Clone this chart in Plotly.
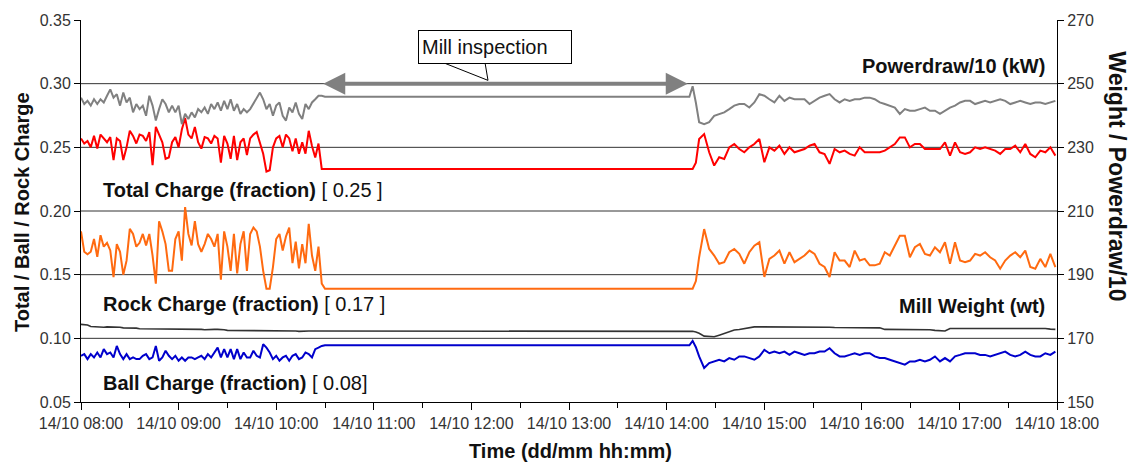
import pandas as pd
import plotly.graph_objects as go

# ---------------- time axes ----------------
t_before = pd.date_range("2008-10-14 08:00", periods=75, freq="2min")
t_gap = pd.to_datetime(["2008-10-14 10:30", "2008-10-14 14:14",
                        "2008-10-14 14:16", "2008-10-14 14:18"])
t_after = pd.date_range("2008-10-14 14:20", "2008-10-14 17:59", periods=72)

# ---------------- Powerdraw/10 (kW), right axis ----------------
power_before = [245.6,243.6,244.6,243.1,245.1,243.6,245.1,244.1,246.2,248.2,
                245.6,246.7,243.1,247.2,244.1,245.6,241.0,243.6,242.0,243.1,
                239.9,246.2,243.1,238.4,242.0,245.1,243.6,241.0,243.1,241.0,
                243.1,237.3,240.5,238.9,241.0,239.4,242.0,241.0,242.5,240.5,
                243.6,242.0,244.1,241.5,244.6,242.0,245.1,241.5,243.6,240.5,
                242.0,241.0,242.0,243.6,245.6,247.2,245.1,242.0,243.6,239.9,
                243.1,244.1,239.9,238.4,242.5,241.0,244.1,240.5,238.9,243.6,
                242.0,244.1,245.1,246.2,246.2]
power_gap = [245.9, 245.9, 249.2, 244.0]
power_after = [237.9,237.3,237.9,239.9,240.5,241.0,242.0,243.1,243.6,243.6,
               242.5,244.1,246.7,246.2,245.1,244.1,246.2,244.6,245.6,245.1,
               245.1,245.1,243.6,244.6,245.6,246.2,246.7,245.1,244.1,245.1,
               244.6,245.1,245.1,245.6,245.6,245.1,244.1,243.6,243.1,242.5,
               240.5,242.0,241.5,241.5,242.0,242.5,241.5,241.5,240.5,241.5,
               242.5,243.1,244.1,244.6,244.6,243.6,244.1,244.6,244.1,244.6,
               245.1,244.6,243.6,244.1,244.6,244.1,243.6,244.1,244.1,243.6,
               244.1,244.6]

# ---------------- Total charge (fraction) ----------------
total_before = [0.257,0.253,0.255,0.250,0.259,0.249,0.260,0.257,0.254,0.258,
                0.240,0.257,0.255,0.240,0.250,0.263,0.259,0.253,0.260,0.259,
                0.255,0.262,0.236,0.266,0.260,0.254,0.241,0.242,0.254,0.258,
                0.250,0.264,0.273,0.260,0.257,0.266,0.254,0.249,0.258,0.257,
                0.253,0.259,0.257,0.238,0.259,0.253,0.241,0.259,0.240,0.254,
                0.257,0.244,0.257,0.260,0.262,0.253,0.245,0.231,0.232,0.250,
                0.257,0.259,0.250,0.260,0.257,0.247,0.257,0.245,0.254,0.245,
                0.263,0.251,0.242,0.253,0.233]
total_gap = [0.233, 0.233, 0.233, 0.238]
total_after = [0.2565,0.2604,0.2461,0.2357,0.2422,0.2409,0.2500,0.2526,0.2487,0.2461,
               0.2500,0.2526,0.2565,0.2383,0.2500,0.2474,0.2513,0.2448,0.2500,0.2461,
               0.2474,0.2487,0.2513,0.2526,0.2461,0.2448,0.2370,0.2487,0.2461,0.2474,
               0.2448,0.2435,0.2500,0.2461,0.2461,0.2461,0.2461,0.2474,0.2500,0.2526,
               0.2578,0.2578,0.2500,0.2526,0.2526,0.2487,0.2487,0.2487,0.2487,0.2539,
               0.2435,0.2539,0.2461,0.2448,0.2461,0.2500,0.2487,0.2500,0.2487,0.2474,
               0.2448,0.2487,0.2487,0.2513,0.2461,0.2526,0.2448,0.2422,0.2474,0.2461,
               0.2500,0.2435]

# ---------------- Rock charge (fraction) ----------------
rock_before = [0.184,0.168,0.166,0.168,0.178,0.164,0.181,0.172,0.175,0.169,
               0.148,0.174,0.168,0.150,0.161,0.186,0.182,0.172,0.175,0.182,
               0.173,0.182,0.165,0.143,0.192,0.184,0.174,0.153,0.153,0.178,
               0.184,0.161,0.203,0.182,0.173,0.192,0.174,0.168,0.174,0.182,
               0.178,0.172,0.182,0.146,0.184,0.172,0.153,0.182,0.151,0.174,
               0.184,0.153,0.182,0.187,0.184,0.172,0.153,0.139,0.139,0.156,
               0.178,0.182,0.169,0.180,0.187,0.159,0.176,0.155,0.174,0.159,
               0.190,0.165,0.153,0.172,0.143]
rock_gap = [0.139, 0.139, 0.139, 0.145]
rock_after = [0.1637,0.1858,0.1702,0.1650,0.1586,0.1598,0.1676,0.1702,0.1663,0.1586,
              0.1676,0.1728,0.1754,0.1482,0.1624,0.1650,0.1689,0.1586,0.1676,0.1598,
              0.1624,0.1650,0.1689,0.1663,0.1586,0.1560,0.1482,0.1676,0.1611,0.1611,
              0.1560,0.1689,0.1611,0.1624,0.1573,0.1573,0.1586,0.1676,0.1650,0.1728,
              0.1806,0.1806,0.1637,0.1715,0.1741,0.1663,0.1650,0.1715,0.1676,0.1754,
              0.1586,0.1754,0.1611,0.1598,0.1611,0.1663,0.1650,0.1676,0.1637,0.1611,
              0.1547,0.1611,0.1650,0.1676,0.1637,0.1689,0.1560,0.1547,0.1624,0.1560,
              0.1663,0.1560]

# ---------------- Mill weight (wt), right axis ----------------
weight_before = [174.4,174.4,174.2,173.7,173.6,173.6,173.6,173.5,173.6,173.6,
                 173.5,173.5,173.5,173.3,173.3,173.3,173.3,173.2,173.0,173.0,
                 173.0,173.0,173.0,173.0,173.0,172.9,173.0,173.0,173.0,173.0,
                 172.8,172.8,172.8,172.8,172.8,172.8,172.8,172.8,172.7,172.8,
                 172.8,172.8,172.8,172.8,172.7,172.5,172.5,172.5,172.5,172.5,
                 172.5,172.5,172.5,172.5,172.4,172.5,172.5,172.5,172.5,172.4,
                 172.3,172.3,172.3,172.3,172.3,172.3,172.3,172.2,172.3,172.3,
                 172.3,172.3,172.3,172.3,172.3]
weight_gap = [172.3, 172.3, 172.2, 172.0]
weight_after = [171.6,170.7,170.5,170.5,171.0,171.6,172.1,172.6,172.8,173.1,
                173.3,173.6,173.6,173.6,173.7,173.6,173.6,173.6,173.6,173.6,
                173.5,173.6,173.6,173.6,173.6,173.6,173.5,173.4,173.4,173.4,
                173.4,173.4,173.4,173.3,173.4,173.4,173.3,172.8,172.8,172.8,
                172.8,172.8,172.8,172.8,172.8,172.7,172.7,172.5,172.3,172.3,
                173.1,173.1,173.1,173.1,173.1,173.1,173.1,173.1,173.1,173.2,
                173.1,173.1,173.1,173.1,173.1,173.2,173.1,173.1,173.1,173.1,
                172.9,172.8]

# ---------------- Ball charge (fraction) ----------------
ball_before = [0.0863,0.0876,0.0837,0.0876,0.0850,0.0889,0.0850,0.0915,0.0876,0.0889,
               0.0850,0.0940,0.0876,0.0837,0.0876,0.0837,0.0850,0.0837,0.0837,0.0863,
               0.0876,0.0837,0.0850,0.0940,0.0824,0.0850,0.0902,0.0863,0.0837,0.0863,
               0.0824,0.0850,0.0824,0.0850,0.0850,0.0837,0.0850,0.0863,0.0837,0.0876,
               0.0850,0.0889,0.0927,0.0850,0.0915,0.0850,0.0915,0.0837,0.0915,0.0837,
               0.0889,0.0850,0.0850,0.0902,0.0863,0.0850,0.0953,0.0927,0.0889,0.0837,
               0.0863,0.0824,0.0850,0.0863,0.0824,0.0863,0.0876,0.0837,0.0850,0.0889,
               0.0876,0.0850,0.0915,0.0927,0.0940]
ball_gap = [0.0945, 0.0945, 0.0980, 0.0930]
ball_after = [0.0858,0.0767,0.0806,0.0819,0.0832,0.0819,0.0845,0.0832,0.0858,0.0858,
              0.0845,0.0832,0.0858,0.0909,0.0883,0.0896,0.0883,0.0896,0.0870,0.0896,
              0.0883,0.0870,0.0883,0.0883,0.0896,0.0896,0.0922,0.0883,0.0858,0.0858,
              0.0870,0.0883,0.0870,0.0883,0.0883,0.0858,0.0845,0.0845,0.0832,0.0819,
              0.0806,0.0793,0.0819,0.0819,0.0832,0.0819,0.0832,0.0858,0.0819,0.0845,
              0.0819,0.0858,0.0870,0.0883,0.0883,0.0883,0.0870,0.0870,0.0858,0.0870,
              0.0883,0.0896,0.0870,0.0858,0.0870,0.0896,0.0870,0.0858,0.0858,0.0883,
              0.0870,0.0896]

# ---------------- axes ----------------
left_ticks = [0.05, 0.10, 0.15, 0.20, 0.25, 0.30, 0.35]
right_ticks = [150, 170, 190, 210, 230, 250, 270]
x_range = ["2008-10-14 08:00", "2008-10-14 18:00"]
inspection_start = "2008-10-14 10:28"
inspection_end = "2008-10-14 14:13"

times = list(t_before) + list(t_gap) + list(t_after)
FONT = "Liberation Sans, Arial, sans-serif"

series = [
    ("Powerdraw/10 (kW)", power_before + power_gap + power_after, "#808080", 2, "y2"),
    ("Total Charge", total_before + total_gap + total_after, "#FF0000", 2, "y"),
    ("Rock Charge", rock_before + rock_gap + rock_after, "#FF6A10", 2, "y"),
    ("Mill Weight", weight_before + weight_gap + weight_after, "#333333", 1.6, "y2"),
    ("Ball Charge", ball_before + ball_gap + ball_after, "#0000CC", 2, "y"),
]

fig = go.Figure()
for name, vals, color, width, yax in series:
    fig.add_trace(go.Scatter(x=times, y=vals, mode="lines", name=name,
                             line=dict(color=color, width=width), yaxis=yax,
                             showlegend=False))

# horizontal grid lines at the left-axis ticks (inside the range)
for v in left_ticks[1:-1]:
    fig.add_shape(type="line", xref="paper", x0=0, x1=1, yref="y", y0=v, y1=v,
                  line=dict(color="#333333", width=1), layer="below")

tickfont = dict(family=FONT, size=16, color="#333333")
fig.update_layout(
    width=1135, height=470,
    margin=dict(l=81, r=78, t=16, b=68),
    paper_bgcolor="white", plot_bgcolor="white",
    font=dict(family=FONT, color="#111111"),
    xaxis=dict(type="date", range=x_range, dtick=3600000,
               tickformat="%d/%m %H:%M", showgrid=False, zeroline=False,
               showline=True, linecolor="black", linewidth=1,
               ticks="outside", ticklen=7, tickcolor="black",
               minor=dict(dtick=1800000, ticks="outside", ticklen=5, tickcolor="black", showgrid=False),
               tickfont=tickfont),
    yaxis=dict(range=[0.05, 0.35], tickvals=left_ticks, tickformat=".2f",
               showgrid=False, zeroline=False, showline=True, linecolor="black",
               linewidth=1, ticks="outside", ticklen=6, tickcolor="black",
               tickfont=tickfont),
    yaxis2=dict(range=[150, 270], tickvals=right_ticks, overlaying="y", side="right",
                showgrid=False, zeroline=False, showline=True, linecolor="black",
                linewidth=1, ticks="outside", ticklen=6, tickcolor="black",
                tickfont=tickfont),
)

def px2paper(px, py):
    return (px - 81) / 976.0, (402 - py) / 386.0

annots = []
# axis titles
x, y = px2paper(22, 210)
annots.append(dict(text="<b>Total / Ball / Rock Charge</b>", x=x, y=y, textangle=-90,
                   font=dict(size=20)))
x, y = px2paper(1117, 174)
annots.append(dict(text="<b>Weight / Powerdraw/10</b>", x=x, y=y, textangle=90,
                   font=dict(size=23)))
x, y = px2paper(570, 452)
annots.append(dict(text="<b>Time (dd/mm hh:mm)</b>", x=x, y=y, font=dict(size=20)))

# series labels
for txt, px, py, anchor in [
    ("<b>Powerdraw/10 (kW)</b>", 1047, 62, "right"),
    ("<b>Total Charge (fraction)</b> [ 0.25 ]", 101, 188, "left"),
    ("<b>Rock Charge (fraction)</b> [ 0.17 ]", 101, 303, "left"),
    ("<b>Mill Weight (wt)</b>", 1047, 305, "right"),
    ("<b>Ball Charge (fraction)</b> [ 0.08]", 101, 383, "left"),
]:
    x, y = px2paper(px, py)
    annots.append(dict(text=txt, x=x, y=y, xanchor=anchor, font=dict(size=20)))

# callout box
x, y = px2paper(494.5, 43)
annots.append(dict(text="Mill inspection", x=x, y=y, width=146, height=26, align="left",
                   bordercolor="black", borderwidth=1, borderpad=3, bgcolor="white",
                   font=dict(size=20)))

for a in annots:
    a.setdefault("xref", "paper")
    a.setdefault("yref", "paper")
    a.setdefault("showarrow", False)
    a.setdefault("xanchor", "center")
    a.setdefault("yanchor", "middle")
    fig.add_annotation(**a)

# double-headed inspection arrow on the 0.30 line
fig.add_annotation(x=inspection_end, y=0.30, ax=inspection_start, ay=0.30,
                   xref="x", yref="y", axref="x", ayref="y", text="",
                   showarrow=True, arrowside="end+start", arrowhead=2,
                   arrowsize=1.1, arrowwidth=4, arrowcolor="#808080", standoff=0,
                   startstandoff=0)

# callout pointer
p1 = px2paper(443, 59)
p2 = px2paper(488, 77)
p3 = px2paper(485, 59)
fig.add_shape(type="path", xref="paper", yref="paper",
              path=f"M {p1[0]},{p1[1]} L {p2[0]},{p2[1]} L {p3[0]},{p3[1]} Z",
              line=dict(color="black", width=1), fillcolor="white", layer="above")

fig.write_html("out.html")
